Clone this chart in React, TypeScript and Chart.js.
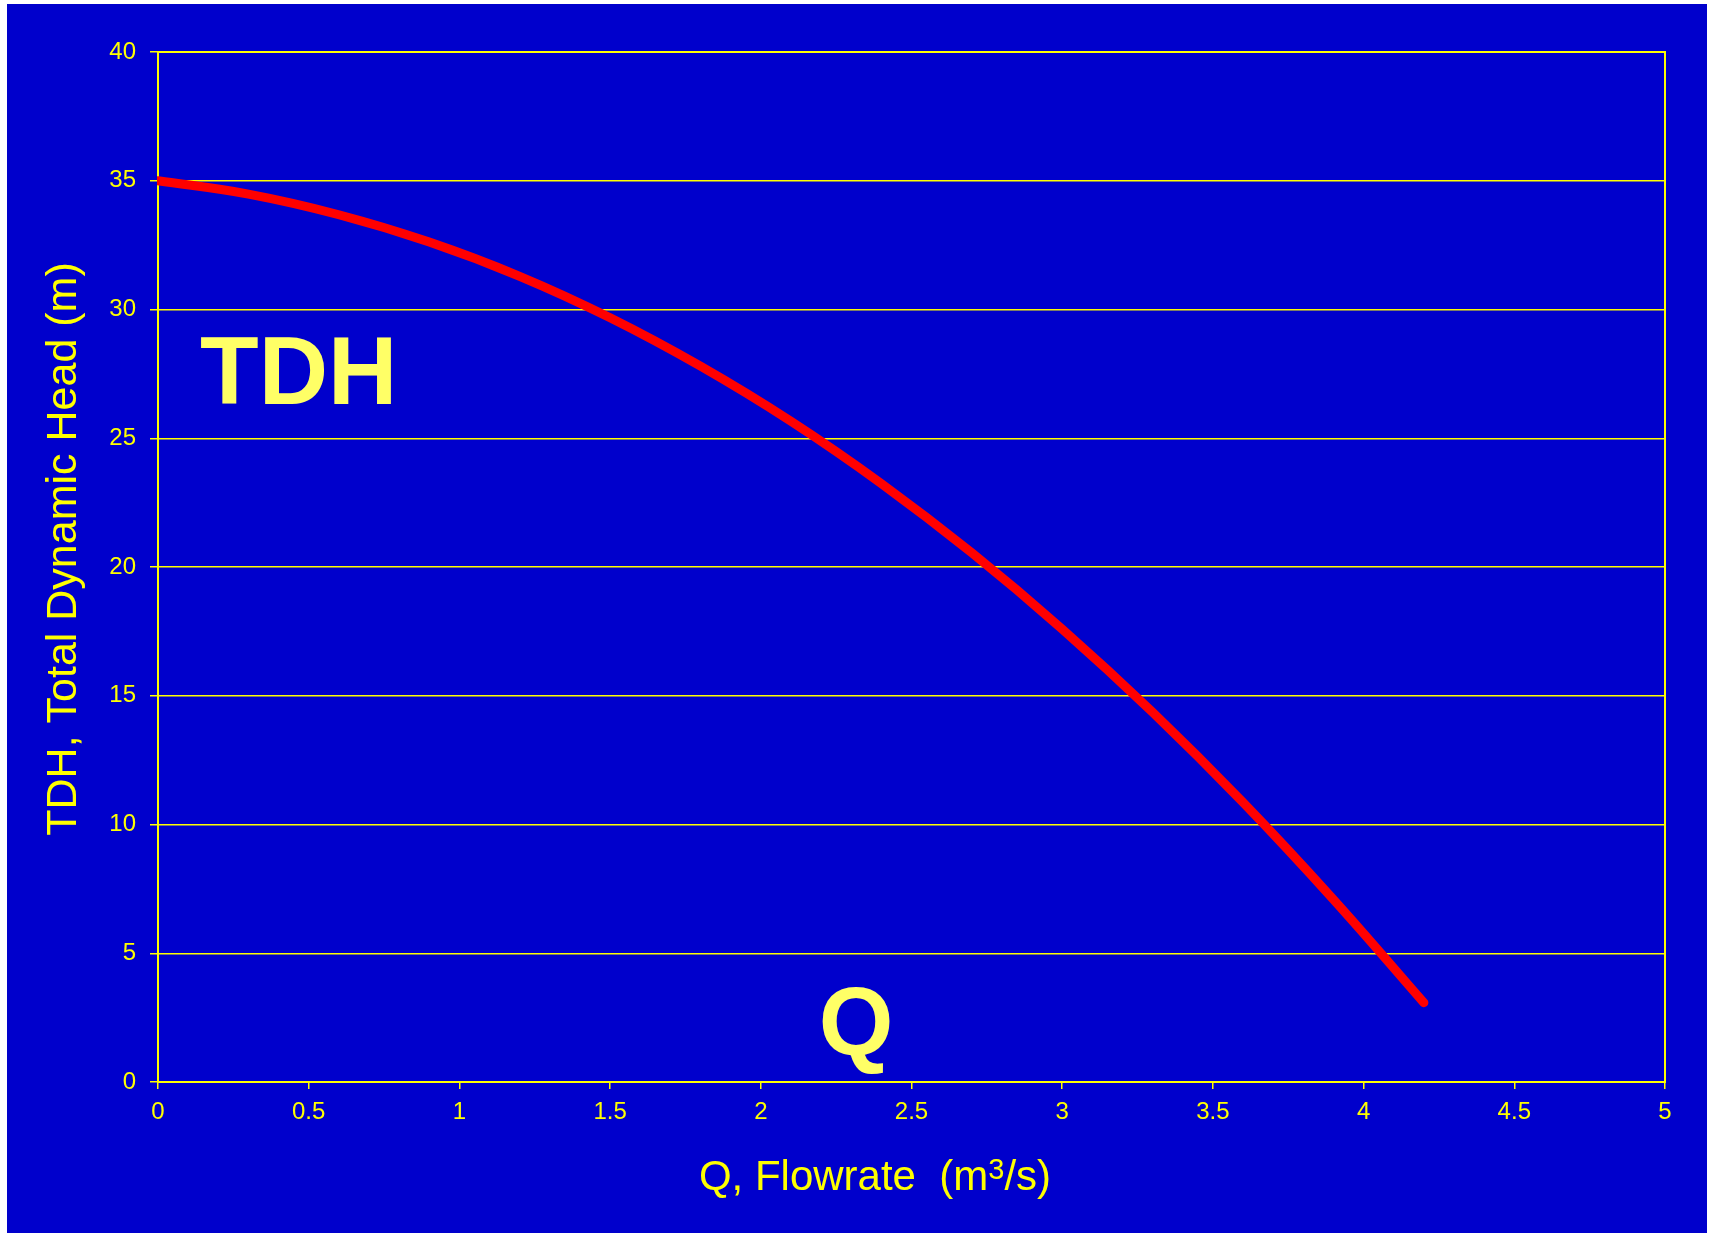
import React, { useEffect, useRef } from "react";
import { Chart, registerables } from "chart.js";

Chart.register(...registerables);

// Pump characteristic: flow rate (m³/s) against total dynamic head (m)
const flowRates = [0, 0.3, 0.6, 0.9, 1.2, 1.5, 1.8, 2.1, 2.4, 2.7, 3.0, 3.3, 3.6, 3.9, 4.2];
const heads = [35.0, 34.48, 33.68, 32.62, 31.29, 29.68, 27.8, 25.66, 23.24, 20.55, 17.59, 14.36, 10.86, 7.09, 3.08];

// Axis tick values
const flowTicks = [0, 0.5, 1, 1.5, 2, 2.5, 3, 3.5, 4, 4.5, 5];
const headTicks = [0, 5, 10, 15, 20, 25, 30, 35, 40];

// Text
const yTitle = "TDH, Total Dynamic Head (m)";
const xTitleMain = "Q, Flowrate  (m";
const xTitleSup = "3";
const xTitleEnd = "/s)";
const headLabel = "TDH";
const flowLabel = "Q";

const FONT = "'Liberation Sans', Arial, Helvetica, sans-serif";
const YELLOW = "#FFFF00";
const PALE_YELLOW = "#FFFF66";
const BACKGROUND = "#0000CC";

const W = 1700;
const H = 1229;

const framePlugin = {
  id: "frameAndLabels",
  beforeDatasetsDraw(chart: any) {
    const { ctx, chartArea: a } = chart;
    ctx.save();
    ctx.strokeStyle = YELLOW;
    ctx.lineWidth = 2;
    ctx.strokeRect(a.left, a.top, a.right - a.left, a.bottom - a.top);
    ctx.restore();
  },
  afterDraw(chart: any) {
    const { ctx, chartArea: a } = chart;
    ctx.save();

    // big in-plot labels
    ctx.fillStyle = PALE_YELLOW;
    ctx.font = `bold 96px ${FONT}`;
    ctx.textBaseline = "alphabetic";
    ctx.textAlign = "left";
    ctx.fillText(headLabel, a.left + 42, a.top + 352);
    ctx.textAlign = "center";
    ctx.fillText(flowLabel, a.left + 698, a.bottom - 27);

    // x axis title with superscript
    ctx.fillStyle = YELLOW;
    ctx.textAlign = "left";
    const mainFont = `42px ${FONT}`;
    const supFont = `29px ${FONT}`;
    ctx.font = mainFont;
    const w1 = ctx.measureText(xTitleMain).width;
    const w3 = ctx.measureText(xTitleEnd).width;
    ctx.font = supFont;
    const w2 = ctx.measureText(xTitleSup).width;
    const cx = a.left + 717;
    const baseY = a.bottom + 108;
    let x = cx - (w1 + w2 + w3) / 2;
    ctx.font = mainFont;
    ctx.fillText(xTitleMain, x, baseY);
    x += w1;
    ctx.font = supFont;
    ctx.fillText(xTitleSup, x, baseY - 11);
    x += w2;
    ctx.font = mainFont;
    ctx.fillText(xTitleEnd, x, baseY);

    // y axis title
    ctx.translate(a.left - 94, a.top + 497);
    ctx.rotate(-Math.PI / 2);
    ctx.textAlign = "center";
    ctx.textBaseline = "middle";
    ctx.font = `43px ${FONT}`;
    ctx.fillText(yTitle, 0, 0);
    ctx.restore();
  },
};

export default function App() {
  const canvasRef = useRef<HTMLCanvasElement | null>(null);

  useEffect(() => {
    const canvas = canvasRef.current;
    if (!canvas) return;
    const points = flowRates.map((q, i) => ({ x: q, y: heads[i] }));

    const chart = new Chart(canvas, {
      type: "line",
      data: {
        datasets: [
          {
            data: points,
            borderColor: "#FF0000",
            borderWidth: 9,
            borderCapStyle: "round",
            borderJoinStyle: "round",
            pointRadius: 0,
            fill: false,
            tension: 0.4,
            clip: { left: 1, top: 6, right: 6, bottom: 6 },
          } as any,
        ],
      },
      options: {
        responsive: false,
        animation: false,
        devicePixelRatio: 1,
        layout: { padding: { left: 0, top: 48, right: 42, bottom: 0 } },
        plugins: {
          legend: { display: false },
          tooltip: { enabled: false },
          title: { display: false },
        },
        scales: {
          x: {
            type: "linear",
            min: 0,
            max: 5,
            afterBuildTicks: (scale: any) => {
              scale.ticks = flowTicks.map((v) => ({ value: v }));
            },
            afterFit: (scale: any) => {
              scale.height = 151;
            },
            border: { display: false },
            grid: {
              drawOnChartArea: false,
              drawTicks: true,
              tickLength: 7,
              color: YELLOW,
              lineWidth: 1.5,
            },
            ticks: {
              color: YELLOW,
              font: { family: FONT, size: 24 },
              padding: 9,
              maxRotation: 0,
              autoSkip: false,
              callback: (v: any) => String(v),
            },
          },
          y: {
            type: "linear",
            min: 0,
            max: 40,
            afterBuildTicks: (scale: any) => {
              scale.ticks = headTicks.map((v) => ({ value: v }));
            },
            afterFit: (scale: any) => {
              scale.width = 151;
            },
            border: { display: false },
            grid: {
              drawOnChartArea: true,
              drawTicks: true,
              tickLength: 8,
              color: YELLOW,
              lineWidth: 1.5,
            },
            ticks: {
              color: YELLOW,
              font: { family: FONT, size: 24 },
              padding: 14,
              autoSkip: false,
              callback: (v: any) => String(v),
            },
          },
        },
      },
      plugins: [framePlugin],
    });

    return () => chart.destroy();
  }, []);

  return (
    <div
      style={{
        position: "absolute",
        left: 7,
        top: 4,
        width: W,
        height: H,
        background: BACKGROUND,
      }}
    >
      <canvas ref={canvasRef} width={W} height={H} style={{ display: "block", width: W, height: H }} />
    </div>
  );
}
